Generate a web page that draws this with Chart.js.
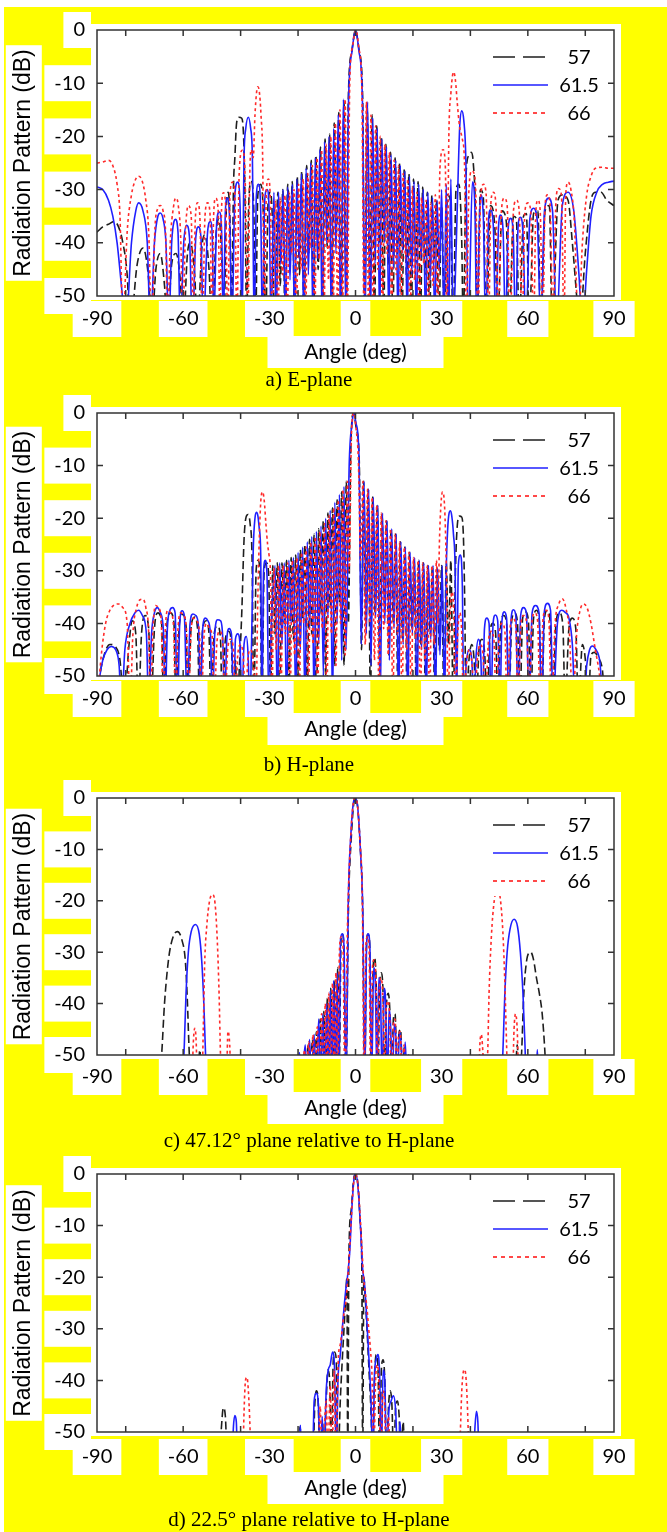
<!DOCTYPE html>
<html>
<head>
<meta charset="utf-8">
<script src="https://cdn.jsdelivr.net/npm/chart.js@4.4.1/dist/chart.umd.min.js"></script>
<style>
  html, body { margin: 0; padding: 0; background: #fff; }
  #wrap { position: absolute; left: 4px; top: 7px; width: 663px; height: 1525px; background: #ffff00; }
  canvas { display: block; }
</style>
</head>
<body>
<div id="wrap">
  <canvas id="c1" width="663" height="384"></canvas>
  <canvas id="c2" width="663" height="385"></canvas>
  <canvas id="c3" width="663" height="376"></canvas>
  <canvas id="c4" width="663" height="380"></canvas>
</div>
<script>
// tick labels and legend entries
const angleTicks = [-90, -60, -30, 0, 30, 60, 90];
const dbTicks = [0, -10, -20, -30, -40, -50];
const frameTicksX = [-80, -60, -40, -20, 0, 20, 40, 60, 80];
const frameTicksY = [-10, -20, -30, -40];
const freqLabels = ["57", "61.5", "66"];
const captions = ["a) E-plane", "b) H-plane", "c) 47.12° plane relative to H-plane", "d) 22.5° plane relative to H-plane"];

// a) E-plane, [angle deg, dB] (values under -50 are below the axis)
const ePlane57 = [[-90,-38],[-88,-37],[-86,-36.5],[-84,-36],[-82.5,-37],[-81,-40],[-79.5,-46],[-78.5,-56],
  [-76,-44],[-74,-41],[-72,-47],[-71,-56],[-69.5,-45],[-68,-42],[-66.5,-48],[-65.5,-56],[-64,-44],[-62.5,-42],[-61,-47],[-60,-56],
  [-58.5,-42],[-57.5,-40],[-56,-46],[-55,-56],[-53.5,-41],[-52.5,-38.5],[-51,-45],[-50,-56],[-48.5,-38],[-47.5,-35.5],[-46.5,-44],[-45.8,-56],
  [-45,-34],[-44.3,-30.5],[-43.6,-38],[-43.1,-56],[-42.5,-30],[-42,-24],[-41.4,-17.5],[-40.6,-16.4],[-39.6,-16.6],[-38.9,-21],[-38.4,-34],[-37.9,-56],
  [-37.2,-33],[-36.3,-28.5],[-35.4,-34],[-34.8,-56],[-34,-31],[-33,-29],[-32,-36],[-31.3,-56],[-30.4,-32],[-29.6,-30.5],[-28.8,-38],[-28.2,-56],
  [-27,-30.5],[-26.2,-48],[-25.3,-30],[-24.5,-56],[-23.6,-29],[-22.8,-44],[-22,-28.5],[-21.2,-56],[-20.3,-27.5],[-19.5,-46],[-18.7,-26.5],[-17.9,-56],
  [-17,-25.5],[-16.2,-42],[-15.4,-24.5],[-14.6,-56],[-13.8,-23.5],[-13,-45],[-12.2,-22],[-11.4,-56],[-10.6,-20.5],[-9.8,-41],[-9,-19.5],[-8.2,-56],
  [-7.4,-17.5],[-6.6,-38],[-5.8,-15.5],[-5,-56],[-4,-13.5],[-3.2,-56],[-2.5,-13],[-1.3,-4],[0,0],[1.3,-4],[2.5,-13],[3.2,-56],
  [4,-14],[5,-48],[5.8,-16],[6.6,-56],[7.4,-18],[8.2,-40],[9,-20],[9.8,-56],[10.6,-21.5],[11.4,-44],[12.2,-23],[13,-56],[13.8,-24],[14.6,-42],
  [15.4,-25],[16.2,-56],[17,-26],[17.8,-47],[18.6,-27],[19.4,-56],[20.2,-28],[21,-44],[21.8,-28.5],[22.6,-56],[23.4,-29.5],[24.2,-46],
  [25,-30.5],[25.8,-56],[26.6,-31],[27.4,-43],[28.2,-32],[29,-56],[30,-33],[31,-56],[32,-31],[33,-32],[34,-56],[35,-30],[36,-29],[37,-40],[37.5,-56],
  [38.5,-27],[39.5,-23.5],[40.3,-23],[41,-25],[41.8,-35],[42.3,-56],[43.5,-30],[44.5,-31.5],[45.5,-56],[47,-33],[48.5,-37],[49.5,-56],
  [51,-34],[52.5,-36],[53.5,-56],[55,-35],[56,-35.5],[57,-56],[58.5,-35],[59.5,-34.5],[60.5,-56],[62,-34.5],[63.5,-34],[64.5,-56],
  [66,-34],[67.5,-33],[68.5,-56],[70.5,-32],[72,-31],[74,-32],[75.5,-40],[77,-50],[78,-56],[80,-42],[82,-32],[83.6,-30.5],[85.5,-30.5],[87.5,-32],[90,-33]];
const ePlane615 = [[-90,-29.5],[-88,-30],[-86,-32],[-84.5,-35],[-83,-40],[-81.5,-48],[-80,-56],
  [-78,-40],[-76.5,-34],[-75.5,-32.5],[-74,-34],[-72.5,-40],[-71.4,-56],[-70,-40],[-68.8,-35],[-68,-34.4],[-67,-35.5],[-66,-40],[-65,-56],
  [-64,-40],[-63.2,-36],[-62.7,-35.6],[-61.8,-38],[-61,-56],[-59.8,-40],[-58.8,-36.7],[-57.8,-39],[-56.8,-56],[-55.6,-39],[-54.7,-37],[-53.8,-39],[-53,-56],
  [-51.5,-38],[-50.5,-36],[-49.8,-40],[-49.4,-56],[-48.3,-36],[-47.4,-34.2],[-46.6,-38],[-46,-56],[-45.3,-34],[-44.6,-31.6],[-43.8,-36],[-43,-56],
  [-42,-31],[-41,-28.6],[-40.2,-33],[-39.5,-56],[-38.8,-24],[-38.2,-18.5],[-37.3,-16.4],[-36.5,-18.5],[-35.9,-24],[-35.3,-56],
  [-34.5,-31],[-33.8,-29],[-33,-34],[-32.4,-56],[-31.6,-32],[-30.8,-30],[-30,-35],[-29.4,-56],
  [-28.4,-30.5],[-27.6,-56],[-26.8,-30.5],[-26,-44],[-25.2,-30],[-24.4,-56],[-23.6,-29.5],[-22.8,-47],[-22,-29],[-21.2,-56],[-20.4,-28],[-19.6,-43],
  [-18.8,-27],[-18,-56],[-17.2,-26],[-16.4,-46],[-15.6,-25],[-14.8,-56],[-14,-24],[-13.2,-43],[-12.4,-22.5],[-11.6,-56],[-10.8,-21],[-10,-40],
  [-9.2,-20],[-8.4,-56],[-7.6,-18.5],[-6.8,-42],[-6,-16],[-5.2,-56],[-4.2,-13],[-3.3,-56],[-2.4,-13],[-1.2,-4],[0,0],[1.2,-4],[2.4,-13],[3.3,-56],
  [4.2,-13.5],[5.2,-56],[6,-16.5],[6.8,-44],[7.6,-18.5],[8.4,-56],[9.2,-20.5],[10,-40],[10.8,-22],[11.6,-56],[12.4,-23.5],[13.2,-45],[14,-24.5],[14.8,-56],
  [15.6,-25.5],[16.4,-42],[17.2,-26.5],[18,-56],[18.8,-27.5],[19.6,-46],[20.4,-28.5],[21.2,-56],[22,-29],[22.8,-43],[23.6,-30],[24.4,-56],
  [25.2,-30.5],[26,-47],[26.8,-31.5],[27.6,-56],[28.4,-32],[29.2,-45],[30,-30],[30.8,-56],[31.6,-29],[32.4,-56],[33.2,-28],[34,-56],
  [35.1,-40],[35.8,-26],[36.3,-18],[37,-15.2],[37.7,-17],[38.4,-24],[39.3,-56],[40.7,-28.6],[41.6,-34],[42.2,-56],[43.5,-31],[44.5,-35],[45.3,-56],
  [46.3,-36],[47,-33.8],[48,-37],[48.8,-56],[49.8,-37],[50.5,-34.8],[51.4,-38],[52.2,-56],[53.2,-37],[54,-35.4],[54.9,-38],[55.7,-56],
  [56.6,-37],[57.4,-35.2],[58.3,-38],[59.3,-56],[60.7,-35.5],[62,-33.5],[63.3,-36],[64.5,-56],[65.8,-34],[67.2,-31.6],[68.6,-34],[70,-56],
  [72,-33],[74,-30.5],[76,-34],[77.8,-46],[79,-56],[80.5,-45],[82,-35],[84,-30.5],[86,-29],[88,-28.6],[90,-28.4]];
const ePlane66 = [[-90,-25],[-88,-24.8],[-86,-24.5],[-84.5,-25.5],[-83,-29],[-82,-35],[-81,-56],
  [-79.5,-38],[-78,-31],[-76.5,-28],[-75.5,-27.5],[-74.2,-28.5],[-73,-32],[-72,-38],[-71,-56],[-69.8,-37],[-68.8,-33.5],[-68,-33],[-67,-34],[-66,-40],[-65.5,-56],
  [-64.5,-40],[-63.3,-33],[-62.6,-31.6],[-61.7,-33],[-60.8,-40],[-60.2,-56],[-59.2,-38],[-58.2,-33],[-57.2,-35],[-56.5,-56],
  [-55.8,-36],[-55,-32.5],[-54.2,-35],[-53.3,-56],[-52.4,-35],[-51.5,-32.5],[-50.6,-35],[-50,-56],[-49.4,-35],[-48.7,-31.6],[-47.8,-34],[-47.2,-56],
  [-46.6,-33],[-46,-30.6],[-45.2,-33],[-44.5,-56],[-43.7,-31],[-42.8,-28.6],[-42,-31],[-41.3,-56],[-40.5,-27],[-39.4,-22.6],[-38.6,-25],[-38,-40],[-37.5,-56],
  [-36.8,-27],[-36.3,-22.5],[-35.6,-24],[-35,-16],[-34.4,-11.5],[-34,-10.7],[-33.5,-11.5],[-32.9,-16],[-32.3,-25],[-31.8,-56],
  [-31,-30],[-30.3,-28],[-29.6,-33],[-29,-56],[-27.8,-32],[-27,-56],[-26.2,-31.5],[-25.4,-46],[-24.6,-31],[-23.8,-56],[-23,-30.5],[-22.2,-42],
  [-21.4,-30],[-20.6,-56],[-19.8,-29],[-19,-45],[-18.2,-28],[-17.4,-56],[-16.6,-27],[-15.8,-41],[-15,-25.5],[-14.2,-56],[-13.4,-24],[-12.6,-43],
  [-11.8,-22.5],[-11,-56],[-10.2,-21.5],[-9.4,-47],[-8.6,-20],[-7.8,-56],[-7,-17.5],[-6.2,-56],[-5.4,-15],[-4.6,-56],[-3.6,-13],[-2.9,-56],
  [-2,-10],[-1,-3],[0.2,0],[1.2,-3.5],[2.2,-11],[3,-56],[3.8,-13.5],[4.6,-56],[5.4,-16],[6.2,-56],[7,-18],[7.8,-45],[8.6,-20],[9.4,-56],
  [10.2,-21.5],[11,-42],[11.8,-23],[12.6,-56],[13.4,-24.5],[14.2,-46],[15,-25.5],[15.8,-56],[16.6,-27],[17.4,-43],[18.2,-28],[19,-56],
  [19.8,-29.5],[20.6,-47],[21.4,-30.5],[22.2,-56],[23,-31.5],[23.8,-44],[24.6,-32],[25.4,-56],[26.2,-32.5],[27,-48],[27.8,-31],[28.6,-56],
  [29.4,-26],[30.5,-22.5],[31.3,-26],[31.8,-56],[32.5,-20],[33.2,-12],[33.8,-8.5],[34.2,-7.9],[34.8,-9.5],[35.4,-13.5],[36.2,-18],[37.2,-20.5],[38,-26],[38.6,-56],
  [39.5,-30],[40.5,-26.5],[41.3,-27],[42,-33],[42.6,-56],[43.6,-31],[44.6,-29],[45.5,-31],[46.3,-56],[47.2,-32],[48,-30.5],[48.9,-33],[49.7,-56],
  [50.8,-34],[51.8,-31.6],[52.8,-33],[53.8,-56],[55,-34],[56,-32],[57,-34],[58,-56],[59,-34],[60,-32.5],[61,-34],[62,-56],[62.8,-34],[63.5,-32],[64.3,-34],[65.2,-56],
  [66,-33],[66.8,-31],[67.7,-32.5],[68.8,-56],[69.8,-32],[70.7,-29.8],[71.7,-31],[72.6,-56],[73.2,-31],[74,-28.6],[75,-30],[76.2,-36],[77.6,-56],
  [79,-40],[80.5,-31],[82,-27.5],[83.5,-26],[86,-25.8],[88,-26],[90,-26]];

// b) H-plane
const hPlane57 = [[-90,-56],[-89,-50],[-87.5,-46],[-85.5,-44],[-83.5,-44.5],[-82,-47],[-80.5,-56],
  [-79,-45],[-77.8,-39.5],[-76.5,-42],[-75.6,-56],[-74.5,-42],[-73.3,-38.5],[-72,-41],[-71.2,-56],[-70,-41],[-68.8,-38],[-67.5,-40],[-66.8,-56],
  [-65.6,-40],[-64.4,-38],[-63.2,-40],[-62.5,-56],[-61.3,-40],[-60.2,-38.3],[-59,-40.5],[-58.3,-56],[-57.2,-40.5],[-56,-38.8],[-55,-41],[-54.3,-56],
  [-53.2,-41],[-52,-39.5],[-51,-42],[-50.3,-56],[-49.2,-42],[-48,-40.5],[-47,-43],[-46.4,-56],[-45.3,-43],[-44.2,-41.5],[-43.2,-44],[-42.5,-56],
  [-41.8,-47],[-41.2,-56],[-40.4,-48],[-39.6,-38],[-38.8,-24],[-38.1,-19.8],[-37.4,-19.3],[-36.7,-21],[-36,-28],[-35.4,-56],
  [-34.6,-30],[-33.9,-28],[-33.2,-31],[-32.6,-56],[-31.8,-30],[-31,-28.5],[-30.2,-31],[-29.6,-56],
  [-28.8,-29],[-28,-42],[-27.2,-28.5],[-26.4,-56],[-25.6,-28.5],[-24.8,-40],[-24,-28],[-23.2,-56],[-22.4,-27.5],[-21.6,-43],[-20.8,-27],[-20,-56],
  [-19.2,-26],[-18.4,-39],[-17.6,-25],[-16.8,-56],[-16,-24],[-15.2,-42],[-14.4,-23],[-13.6,-56],[-12.8,-22],[-12,-38],[-11.2,-20.5],[-10.4,-50],
  [-9.6,-19],[-8.8,-37],[-8,-18],[-7.2,-48],[-6.4,-16.5],[-5.6,-36],[-4.8,-15],[-4,-48],[-3.2,-13],[-2.5,-40],
  [-1.6,-6],[-0.7,0],[0.3,-3],[1.3,-9],[2.1,-45],[2.8,-13],[3.6,-40],[4.4,-14.5],[5.2,-55],[6,-16],[6.8,-38],[7.6,-17.5],[8.4,-47],
  [9.2,-19],[10,-36],[10.8,-20.5],[11.6,-46],[12.4,-22],[13.2,-40],[14,-23],[14.8,-56],[15.6,-24.5],[16.4,-43],[17.2,-25.5],[18,-56],
  [18.8,-26.5],[19.6,-41],[20.4,-27.5],[21.2,-56],[22,-28],[22.8,-44],[23.6,-28.5],[24.4,-56],[25.2,-29],[26,-42],[26.8,-29],[27.6,-56],
  [28.4,-29.5],[29.2,-45],[30,-29],[30.8,-56],[31.6,-28.5],[32.4,-44],[33.2,-28],[34,-56],
  [34.8,-30],[35.5,-21],[36.2,-19.6],[37,-19.8],[37.6,-24],[38,-35],[38.5,-56],
  [39.5,-47],[40.5,-44],[41.3,-47],[42,-56],[43,-45],[44,-43],[45,-46],[45.8,-56],[46.8,-42],[47.8,-40],[48.8,-42],[49.6,-56],
  [50.6,-40],[51.6,-38.5],[52.6,-40],[53.4,-56],[54.4,-39.5],[55.4,-38],[56.4,-40],[57.2,-56],[58.2,-39],[59.2,-37.8],[60.2,-39.5],[61,-56],
  [62,-39],[63,-37.5],[64,-39.5],[64.8,-56],[65.8,-39],[66.8,-37.5],[67.8,-40],[68.6,-56],[69.8,-40],[71,-38],[72.2,-40.5],[73,-56],
  [74.3,-41],[75.5,-39],[76.7,-41],[77.6,-56],[79,-44],[80.2,-48],[81,-56],[82,-46],[83.2,-45.5],[84.5,-46.5],[86,-49],[87,-56],[90,-56]];
const hPlane615 = [[-90,-56],[-89,-50],[-88,-47],[-86.5,-45],[-85,-44.4],[-83.5,-45],[-82.3,-48],[-81.5,-56],
  [-80.3,-45],[-78.5,-40],[-76.8,-38],[-75.5,-37.5],[-74.2,-38.5],[-72.8,-42],[-72,-56],[-71,-42],[-70,-38],[-69,-37],[-67.9,-38],[-66.8,-42],[-66.3,-56],
  [-65.5,-41],[-64.6,-37.5],[-63.7,-37],[-62.8,-38],[-62,-56],[-61.2,-40],[-60.4,-37.6],[-59.6,-38.5],[-58.6,-56],
  [-57.6,-40],[-56.6,-38.2],[-55.6,-38.5],[-54.6,-41],[-54,-56],[-53.2,-41],[-52.3,-39],[-51.4,-39.5],[-50.5,-42],[-49.8,-56],
  [-49,-42],[-48,-39.3],[-47,-39.5],[-46.2,-43],[-45.6,-56],[-44.8,-43],[-44,-41],[-43.2,-42],[-42.4,-56],[-41.8,-43],[-41,-42],[-40.2,-44],[-39.6,-56],
  [-38.8,-44],[-38,-42.5],[-37.4,-46],[-36.8,-56],[-36.2,-44],[-35.6,-26],[-35,-20],[-34.5,-18.9],[-34,-19.5],[-33.5,-22],[-33,-27],[-32.6,-56],
  [-32,-30],[-31.4,-28],[-30.8,-31],[-30.2,-56],[-29.3,-40],
  [-28,-29],[-27.2,-56],[-26.4,-28.5],[-25.6,-44],[-24.8,-28.5],[-24,-56],[-23.2,-28],[-22.4,-40],[-21.6,-27.5],[-20.8,-56],[-20,-26.5],[-19.2,-45],
  [-18.4,-25.5],[-17.6,-56],[-16.8,-24.5],[-16,-41],[-15.2,-23.5],[-14.4,-56],[-13.6,-22.5],[-12.8,-44],[-12,-21.5],[-11.2,-50],[-10.4,-20],[-9.6,-39],
  [-8.8,-18.5],[-8,-56],[-7.2,-17],[-6.4,-40],[-5.6,-15.5],[-4.8,-47],[-4,-14],[-3.3,-45],
  [-2.2,-10],[-1.2,-2],[-0.6,0],[0.2,-2],[1.2,-8],[2,-44],
  [3,-13],[3.8,-42],[4.6,-14.5],[5.4,-48],[6.2,-16],[7,-39],[7.8,-17.5],[8.6,-56],[9.4,-19],[10.2,-40],[11,-20.5],[11.8,-47],[12.6,-22],[13.4,-41],
  [14.2,-23],[15,-56],[15.8,-24.5],[16.6,-44],[17.4,-25.5],[18.2,-56],[19,-26.5],[19.8,-42],[20.6,-27.5],[21.4,-56],[22.2,-28],[23,-45],
  [23.8,-28.5],[24.6,-56],[25.4,-29],[26.2,-43],[27,-29],[27.8,-56],[28.6,-29.5],[29.4,-46],[30.2,-29],[31,-56],
  [31.6,-30],[32.1,-22],[32.6,-19],[33,-18.6],[33.5,-19.5],[34.1,-23],[34.7,-30],[35.2,-56],[35.8,-29],[36.5,-27],[37.2,-33],[37.7,-56],
  [38.5,-48],[39.5,-45],[40.5,-47],[41.2,-56],[42,-46],[42.8,-43],[43.6,-46],[44.2,-56],[44.9,-41],[45.7,-39],[46.5,-40],[47.2,-56],
  [47.9,-40],[48.7,-38.4],[49.5,-39.5],[50.3,-56],[51,-39.5],[51.8,-37.8],[52.6,-39],[53.4,-56],[54.2,-39],[55,-37.4],[55.8,-38.5],[56.6,-56],
  [57.5,-38.5],[58.5,-37],[59.5,-38],[60.4,-56],[61.5,-38],[62.7,-36.6],[63.9,-38],[64.8,-56],[65.7,-38],[66.8,-36.2],[67.9,-37.5],[68.8,-56],
  [70.3,-40],[71.8,-37.5],[73,-37.9],[74.3,-39],[75.5,-44],[76.5,-56],[79.5,-56],[80.5,-48],[81.5,-45],[82.5,-44.3],[83.7,-45],[85,-47],[86.5,-56],[90,-56]];
const hPlane66 = [[-90,-56],[-88.5,-46],[-87,-40],[-85.5,-37.5],[-84,-36.5],[-82.5,-36.3],[-81,-37],[-79.5,-40],[-78.5,-56],
  [-77.5,-42],[-76.2,-37],[-75,-35.5],[-74,-35.4],[-73,-37],[-72,-42],[-71.4,-56],[-70.5,-41],[-69.6,-36.6],[-68.6,-37],[-67.6,-40],[-67,-56],
  [-66.2,-41],[-65.3,-37.5],[-64.3,-38],[-63.3,-41],[-62.7,-56],[-61.8,-41],[-60.8,-38],[-59.8,-38.5],[-58.8,-41.5],[-58.2,-56],
  [-57.3,-42],[-56.3,-39],[-55.3,-39.5],[-54.3,-42],[-53.7,-56],[-52.8,-43],[-51.8,-40],[-50.8,-41],[-49.8,-43],[-49.2,-56],
  [-48.3,-44],[-47.3,-41.5],[-46.3,-43],[-45.5,-56],[-44.5,-45],[-43.5,-43],[-42.5,-45],[-41.8,-56],[-41,-46],[-40,-44],[-39,-47],[-38.3,-56],
  [-37.5,-47],[-36.5,-45],[-35.5,-48],[-34.7,-56],[-34,-35],[-33.5,-24],[-33,-17],[-32.4,-15],[-31.8,-16.5],[-31.2,-21],[-30.6,-25],[-30.1,-27],[-29.6,-31],[-29.1,-56],
  [-28.4,-29.5],[-27.6,-45],[-26.8,-29],[-26,-56],[-25.2,-29],[-24.4,-42],[-23.6,-28.5],[-22.8,-56],[-22,-28],[-21.2,-46],[-20.4,-27.5],[-19.6,-56],
  [-18.8,-26.5],[-18,-40],[-17.2,-25.5],[-16.4,-56],[-15.6,-24.5],[-14.8,-44],[-14,-23.5],[-13.2,-56],[-12.4,-22.5],[-11.6,-41],[-10.8,-21],[-10,-56],
  [-9.2,-19.5],[-8.4,-42],[-7.6,-18],[-6.8,-48],[-6,-16.5],[-5.2,-40],[-4.4,-14.5],[-3.6,-46],[-2.8,-13],[-2.2,-30],
  [-1.4,-4],[-0.6,0],[0.2,-3],[1,-9],[1.8,-28],
  [2.6,-13],[3.4,-44],[4.2,-14.5],[5,-40],[5.8,-16],[6.6,-47],[7.4,-17.5],[8.2,-56],[9,-19],[9.8,-41],[10.6,-20.5],[11.4,-46],[12.2,-22],[13,-56],
  [13.8,-23],[14.6,-42],[15.4,-24.5],[16.2,-56],[17,-25.5],[17.8,-45],[18.6,-26.5],[19.4,-56],[20.2,-27.5],[21,-43],[21.8,-28],[22.6,-56],
  [23.4,-28.5],[24.2,-47],[25,-29],[25.8,-56],[26.6,-29],[27.4,-44],[28.2,-28],[28.7,-40],
  [29.2,-25],[29.8,-17],[30.3,-15],[30.8,-16],[31.3,-22],[31.8,-35],[32.2,-56],[33,-38],[33.6,-34],[34.2,-38],[34.8,-56],[35.6,-42],[36.3,-38],[37,-42],[37.6,-56],
  [38.6,-48],[39.6,-45],[40.6,-48],[41.4,-56],[42.4,-47],[43.4,-44],[44.4,-46],[45.2,-56],[46.2,-44],[47.2,-41.5],[48.2,-43],[49,-56],
  [50,-42],[51,-40],[52,-41.5],[52.8,-56],[53.8,-41],[54.8,-39],[55.8,-40.5],[56.6,-56],[57.6,-40],[58.6,-38.5],[59.6,-40],[60.4,-56],
  [61.4,-40],[62.4,-38],[63.4,-39.5],[64.3,-56],[65.3,-39],[66.3,-37.5],[67.3,-39],[68.2,-56],[69.5,-40],[70.8,-36.3],[72,-35.3],[73.2,-37],[74.5,-42],[75.6,-56],
  [77,-42],[78.2,-37.5],[79.4,-36.3],[80.6,-37],[82,-40],[83.5,-45],[85,-50],[86,-56],[90,-56]];

// c) 47.12° plane
const cut47_57 = [[-90,-56],[-68.5,-56],[-67.5,-50],[-66.5,-40],[-65,-31],[-63.5,-27],[-62,-26],[-60.5,-27.5],[-59.2,-32],[-58.5,-40],[-58,-48],[-57.2,-56],
  [-55,-56],[-54.2,-49],[-53.5,-56],
  [-19,-56],[-18,-50],[-17.3,-56],[-16.5,-48],[-15.8,-56],[-15,-47],[-14.3,-56],[-13.6,-45.5],[-13,-56],[-12.3,-43],[-11.6,-56],[-11,-41.5],[-10.4,-56],
  [-9.8,-39],[-9.2,-56],[-8.6,-37],[-8,-56],[-7.3,-35.5],[-6.7,-56],[-6.2,-33],[-5.6,-50],[-5,-27],[-4.5,-26.5],[-4,-30],[-3.4,-56],
  [-2.4,-20],[-1.5,-8],[-0.6,-1],[0,0],[0.7,-1.5],[1.6,-9],[2.5,-22],[3.2,-56],
  [3.8,-29],[4.3,-26.5],[4.9,-28],[5.5,-56],[6.1,-34],[6.6,-31],[7.2,-36],[7.8,-56],[8.4,-36.5],[9,-34],[9.6,-38],[10.2,-56],[10.8,-40],[11.4,-38],[12,-42],[12.6,-56],
  [13.2,-43],[13.8,-42],[14.5,-56],[15.1,-46],[15.7,-45],[16.4,-56],[17,-48.5],[17.7,-56],[18.5,-50],[19.2,-56],
  [55.5,-56],[56.3,-48],[57,-56],[57.8,-50],[58.6,-38],[59.5,-32],[60.3,-30.2],[61,-30],[62,-31.5],[63,-35],[64,-38],[65,-42],[66,-50],[66.5,-56],[90,-56]];
const cut47_615 = [[-90,-56],[-60.3,-56],[-59.6,-48],[-59,-38],[-58.2,-30],[-57.2,-26],[-55.7,-24.6],[-54.4,-26.5],[-53.5,-32],[-52.8,-40],[-52.2,-50],[-51.7,-56],
  [-20.5,-56],[-19.5,-49.5],[-18.8,-56],[-17.5,-48],[-16.8,-56],[-16,-47],[-15.3,-56],[-14.4,-46],[-13.7,-56],[-12.8,-43],[-12.1,-56],[-11.4,-42],[-10.7,-56],
  [-10,-40],[-9.4,-56],[-8.8,-37.5],[-8.2,-56],[-7.6,-35.5],[-7,-56],[-6.4,-34],[-5.8,-56],[-5.2,-27.5],[-4.6,-26.4],[-4,-29],[-3.3,-56],
  [-2.5,-20],[-1.6,-7],[-0.6,-0.5],[0,0],[0.8,-2],[1.7,-10],[2.6,-24],[3.2,-56],
  [3.9,-28],[4.4,-26.4],[5,-29],[5.6,-56],[6.3,-33],[6.9,-36],[7.5,-56],[8.1,-35],[8.7,-38],[9.3,-56],[10,-37],[10.5,-40],[11.1,-56],[11.7,-41],[12.2,-44],[12.8,-56],
  [13.5,-44],[14,-46],[14.6,-56],[15.3,-45.5],[15.9,-48],[16.6,-56],[17.3,-47.5],[18,-56],
  [50.8,-56],[51.4,-48],[52,-38],[52.8,-30],[53.8,-25.5],[55.2,-23.6],[56.4,-25],[57.4,-30],[58.3,-38],[59,-48],[59.5,-56],[62.7,-56],[63.3,-49],[63.9,-56],[90,-56]];
const cut47_66 = [[-90,-56],[-57,-56],[-56.5,-48],[-56,-44.8],[-55.5,-47],[-55,-56],[-53.5,-56],[-53,-45],[-52.5,-32],[-51.8,-25],[-50.8,-20],[-49.8,-18.8],
  [-48.9,-20.5],[-48.1,-28],[-47.5,-38],[-47,-50],[-46.6,-56],[-45,-56],[-44.4,-45.4],[-43.8,-48],[-43.3,-56],
  [-18.5,-56],[-17.8,-49],[-17.2,-56],[-16.3,-47.5],[-15.6,-56],[-14.8,-46],[-14.1,-56],[-13.3,-44.5],[-12.6,-56],[-11.8,-42],[-11.2,-56],[-10.5,-40],[-9.9,-56],
  [-9.3,-38],[-8.7,-56],[-8,-36],[-7.4,-56],[-6.8,-34],[-6.2,-56],[-5.6,-30],[-5,-27],[-4.4,-28],[-3.7,-56],
  [-2.8,-25],[-1.8,-9],[-0.8,-1],[-0.2,0],[0.6,-1],[1.5,-8],[2.4,-21],[3,-56],
  [3.6,-29],[4.1,-27],[4.7,-29],[5.3,-56],[5.9,-33],[6.5,-31.5],[7.1,-35],[7.7,-56],[8.3,-37],[8.9,-35],[9.5,-39],[10.1,-56],[10.7,-41],[11.3,-39.5],[11.9,-43],[12.5,-56],
  [13.2,-44],[13.8,-43],[14.4,-56],[15,-46],[15.6,-45.5],[16.2,-56],[16.9,-48],[17.6,-56],
  [42.8,-56],[43.3,-48],[43.8,-46],[44.3,-49],[44.9,-56],[46,-50],[46.5,-38],[47.3,-27],[48.3,-20],[49.4,-17.5],[50.4,-19.5],[51.3,-26],[52,-36],[52.6,-48],[53,-56],
  [54.6,-56],[55.2,-45],[55.7,-42],[56.3,-45],[56.9,-56],[90,-56]];

// d) 22.5° plane
const cut22_57 = [[-90,-56],[-47.5,-56],[-46.8,-50],[-46,-45.3],[-45.3,-47],[-44.6,-56],
  [-20,-56],[-19.3,-49],[-18.7,-56],[-14.8,-56],[-14.2,-45],[-13.6,-42],[-13,-44],[-12.4,-56],[-11.5,-48],[-11,-56],[-10.2,-44],[-9.6,-38],[-9,-40],[-8.4,-56],
  [-7.8,-37],[-7.3,-34.5],[-6.7,-36],[-6.1,-56],[-5.3,-44],[-4.6,-36],[-4,-30],[-3.4,-24],[-3,-20],[-2.7,-56],
  [-2.3,-16],[-1.5,-7],[-0.5,-0.5],[0.2,0],[1,-3],[1.7,-10],[2.2,-18],[2.5,-56],
  [2.9,-20],[3.4,-24],[4,-30],[4.7,-38],[5.4,-46],[6,-56],[6.6,-40],[7.2,-35],[7.8,-37],[8.4,-56],[9,-38],[9.6,-36],[10.2,-40],[10.8,-56],
  [11.5,-45],[12.1,-42],[12.7,-45],[13.3,-56],[14,-45],[14.6,-44],[15.2,-47],[15.8,-56],[16.6,-48],[17.2,-56],[90,-56]];
const cut22_615 = [[-90,-56],[-43,-56],[-42.5,-49],[-42,-46.8],[-41.5,-48],[-41,-56],
  [-19.8,-56],[-19.2,-48.7],[-18.6,-56],[-15,-56],[-14.4,-44],[-13.6,-42.5],[-12.9,-45],[-12.3,-56],[-11.6,-47],[-11,-56],
  [-10.2,-42],[-9.5,-38],[-8.8,-37],[-8,-34.5],[-7.3,-37.5],[-6.7,-56],[-6.1,-40],[-5.3,-35],[-4.6,-30],[-4,-26],[-3.3,-22],[-2.6,-19],
  [-2,-15],[-1.2,-6],[-0.4,-0.5],[0.2,0],[1,-3.5],[1.8,-11],[2.5,-18.5],[3.1,-21],[3.6,-25],[4.2,-31],[4.8,-37],[5.4,-44],[6,-56],
  [6.6,-39],[7.2,-36],[7.8,-35],[8.4,-39],[9,-56],[9.6,-38],[10.2,-40],[10.8,-56],[11.6,-46],[12.4,-44],[13.2,-43],[14,-46],[14.7,-56],[15.5,-48],[16.2,-56],
  [41,-56],[41.6,-49],[42.1,-46],[42.6,-48],[43.1,-56],[90,-56]];
const cut22_66 = [[-90,-56],[-39.3,-56],[-38.8,-46],[-38.3,-40],[-37.8,-39.4],[-37.3,-42],[-36.8,-48],[-36.3,-56],
  [-13,-56],[-12.3,-45],[-11.6,-56],[-10.2,-44],[-9.6,-56],[-8.8,-41],[-8.2,-56],[-7.4,-38],[-6.8,-56],
  [-6,-36],[-5.3,-33],[-4.6,-30],[-4,-27],[-3.4,-25],[-2.8,-21],[-2.2,-16],[-1.5,-9],[-0.7,-2],[0.1,0],[0.9,-2.5],[1.6,-8],[2.2,-14],
  [2.8,-20],[3.4,-23],[4,-26],[4.6,-30],[5.2,-34],[5.8,-40],[6.3,-56],[7,-40],[7.6,-37],[8.2,-41],[8.8,-56],[9.5,-42],[10.1,-44],[10.7,-56],[11.5,-47],[12.1,-56],
  [36,-56],[36.5,-50],[37,-42],[37.5,-38.5],[37.9,-37.9],[38.4,-39],[38.9,-44],[39.4,-52],[39.9,-56],[90,-56]];

const panelSeries = [
  [ePlane57, ePlane615, ePlane66],
  [hPlane57, hPlane615, hPlane66],
  [cut47_57, cut47_615, cut47_66],
  [cut22_57, cut22_615, cut22_66]
];

// layout of each panel inside its canvas (px)
const panelLayout = [
  { id: "c1", h: 384, top: 23, bottom: 289, label: 312, title: 345, caption: 373 },
  { id: "c2", h: 385, top: 15, bottom: 285, label: 308, title: 338, caption: 374 },
  { id: "c3", h: 376, top: 10, bottom: 279, label: 301, title: 332, caption: 366 },
  { id: "c4", h: 380, top: 16, bottom: 280, label: 305, title: 336, caption: 368 }
];
const PLOT_LEFT = 93, PLOT_RIGHT = 610, CANVAS_W = 663;

const lineStyles = [
  { color: "#1e1e1e", dash: [8, 4], legendDash: [22, 8] },
  { color: "#1f1fff", dash: [], legendDash: [] },
  { color: "#ff2a2a", dash: [3, 3], legendDash: [4, 4] }
];

const tickFont = { family: "Lato, 'Open Sans', sans-serif", size: 20, lineHeight: 1 };
const yTitleFont = { family: "'Liberation Sans', Arial, sans-serif", size: 23, lineHeight: 1.2 };

const decor = {
  id: "decor",
  beforeDraw(chart) {
    const { ctx, chartArea: a, scales: { x, y } } = chart;
    const p = chart.options.panel;
    ctx.save();
    ctx.fillStyle = "#fff";
    ctx.fillRect(a.left - 6, a.top - 6, a.width + 13, a.height + 10);
    // y title box
    ctx.font = yTitleFont.size + "px " + yTitleFont.family;
    const tw = ctx.measureText("Radiation Pattern (dB)").width;
    const cx = y.left + 6 + yTitleFont.size * yTitleFont.lineHeight / 2;
    const cy = (a.top + a.bottom) / 2;
    ctx.fillRect(cx - 18, cy - tw / 2 - 4, 36, tw + 8);
    // x title box
    const mx = (x.left + x.right) / 2;
    ctx.fillRect(mx - 88, p.title - 16, 176, 32);
    ctx.restore();
  },
  afterDatasetsDraw(chart) {
    const { ctx, chartArea: a, scales: { x, y } } = chart;
    ctx.save();
    ctx.strokeStyle = "#333";
    ctx.lineWidth = 1.5;
    ctx.setLineDash([]);
    ctx.strokeRect(a.left, a.top, a.width, a.height);
    ctx.beginPath();
    frameTicksX.forEach(v => {
      const px = x.getPixelForValue(v);
      ctx.moveTo(px, a.top); ctx.lineTo(px, a.top + 6);
      ctx.moveTo(px, a.bottom); ctx.lineTo(px, a.bottom - 6);
    });
    frameTicksY.forEach(v => {
      const py = y.getPixelForValue(v);
      ctx.moveTo(a.left, py); ctx.lineTo(a.left + 6, py);
      ctx.moveTo(a.right, py); ctx.lineTo(a.right - 6, py);
    });
    ctx.stroke();

    // legend inside the top right corner
    ctx.fillStyle = "#fff";
    ctx.fillRect(a.right - 124, a.top + 10, 114, 88);
    ctx.font = "20px " + tickFont.family;
    ctx.textAlign = "center";
    ctx.textBaseline = "middle";
    chart.data.datasets.forEach((ds, i) => {
      const ry = a.top + 27 + i * 28;
      ctx.strokeStyle = ds.borderColor;
      ctx.lineWidth = 1.7;
      ctx.setLineDash(lineStyles[i].legendDash);
      ctx.beginPath();
      ctx.moveTo(a.right - 121, ry);
      ctx.lineTo(a.right - 66, ry);
      ctx.stroke();
      ctx.fillStyle = "#000";
      ctx.fillText(ds.label, a.right - 35, ry + 1);
    });
    ctx.restore();
  }
};

panelLayout.forEach((p, k) => {
  const capH = 21;
  const capPad = Math.max(0, p.h - p.caption - capH / 2);
  const scaleBottom = p.h - capH - capPad;
  const xScaleH = scaleBottom - p.bottom;

  new Chart(document.getElementById(p.id), {
    type: "line",
    data: {
      datasets: panelSeries[k].map((pts, i) => ({
        label: freqLabels[i],
        data: pts,
        borderColor: lineStyles[i].color,
        borderDash: lineStyles[i].dash,
        borderWidth: 1.6,
        pointRadius: 0,
        cubicInterpolationMode: "monotone",
        order: 2 - i
      }))
    },
    options: {
      panel: p,
      responsive: false,
      animation: false,
      events: [],
      layout: { padding: { top: p.top, left: 0, right: CANVAS_W - PLOT_RIGHT, bottom: 0 } },
      plugins: {
        legend: { display: false },
        tooltip: { enabled: false },
        title: {
          display: true,
          position: "bottom",
          text: captions[k],
          color: "#000",
          font: { family: "'Liberation Serif', 'Times New Roman', serif", size: 21, weight: "normal", lineHeight: 1 },
          padding: { top: 0, bottom: capPad }
        }
      },
      scales: {
        x: {
          type: "linear",
          min: -90,
          max: 90,
          afterBuildTicks: s => { s.ticks = angleTicks.map(v => ({ value: v })); },
          afterFit: s => { s.height = xScaleH; },
          grid: { display: false, drawTicks: false },
          border: { display: false },
          ticks: {
            autoSkip: false,
            maxRotation: 0,
            color: "#000",
            font: tickFont,
            padding: p.label - p.bottom - 10,
            callback: v => String(v),
            showLabelBackdrop: true,
            backdropColor: "#fff",
            backdropPadding: { top: 8, bottom: 8, left: 9, right: 9 }
          },
          title: {
            display: true,
            text: "Angle (deg)",
            color: "#000",
            font: { family: tickFont.family, size: 21, lineHeight: 1.2 },
            padding: { top: 0, bottom: scaleBottom - p.title - 12.6 }
          }
        },
        y: {
          min: -50,
          max: 0,
          afterBuildTicks: s => { s.ticks = dbTicks.map(v => ({ value: v })); },
          afterFit: s => { s.width = PLOT_LEFT; },
          grid: { display: false, drawTicks: false },
          border: { display: false },
          ticks: {
            color: "#000",
            font: tickFont,
            padding: 12,
            callback: v => String(v),
            showLabelBackdrop: true,
            backdropColor: "#fff",
            backdropPadding: { top: 8, bottom: 8, left: 10, right: 6 }
          },
          title: {
            display: true,
            text: "Radiation Pattern (dB)",
            color: "#000",
            font: yTitleFont,
            padding: { top: 6, bottom: 0 }
          }
        }
      }
    },
    plugins: [decor]
  });
});
</script>
</body>
</html>
